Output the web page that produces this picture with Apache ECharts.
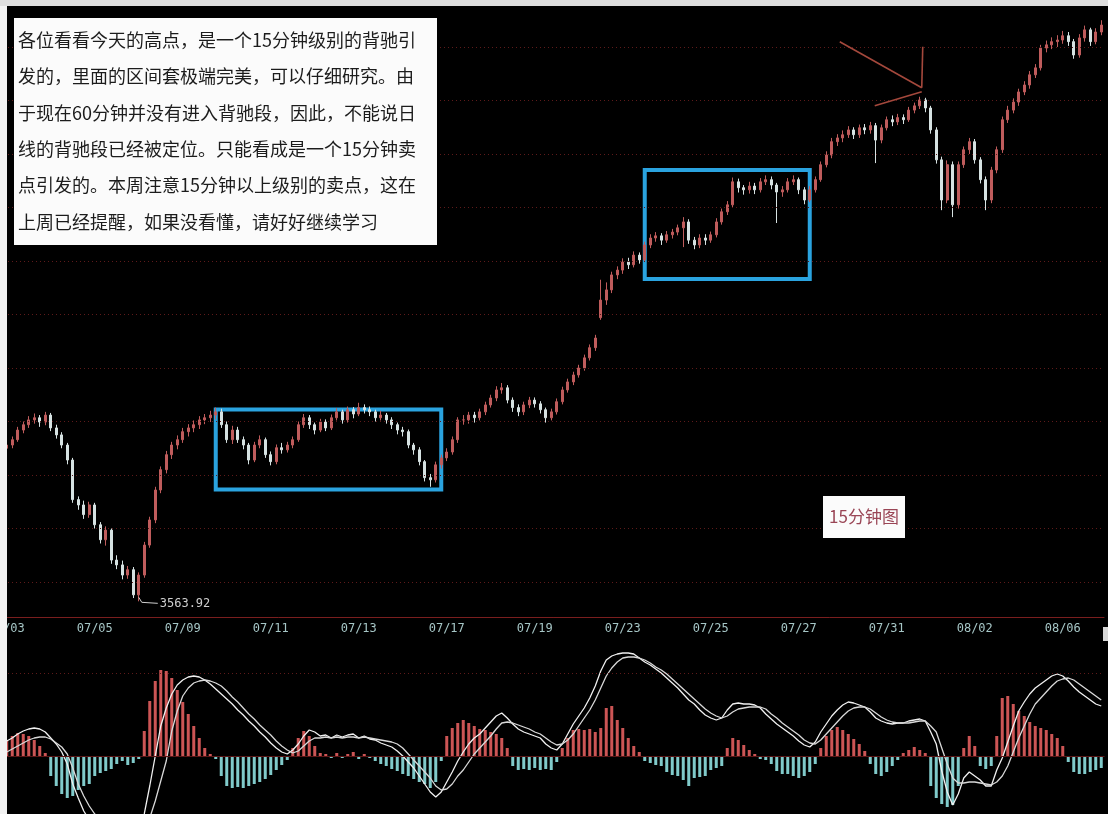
<!DOCTYPE html>
<html><head><meta charset="utf-8">
<script src="https://cdn.jsdelivr.net/npm/echarts@6/dist/echarts.min.js"></script>
<style>html,body{margin:0;padding:0;background:#fff}#c{width:1108px;height:814px}</style>
</head><body><div id="c"></div>
<script>
// ---- data ----
const days = ['07/03','07/04','07/05','07/06','07/09','07/10','07/11','07/12','07/13','07/16','07/17','07/18','07/19','07/20','07/23','07/24','07/25','07/26','07/27','07/30','07/31','08/01','08/02','08/03','08/06'];
const barsPerDay = 8;
const open = [
3850,3856,3866,3884,3894,3903,3907,3899,3912,3888,
3875,3856,3828,3754,3744,3726,3744,3707,3679,3697,
3641,3632,3613,3623,3576,3613,3669,3716,3772,3810,
3838,3856,3866,3881,3888,3894,3903,3907,3912,3918,
3894,3866,3884,3866,3856,3828,3856,3866,3838,3825,
3851,3847,3856,3866,3894,3907,3894,3884,3899,3888,
3907,3918,3903,3922,3914,3926,3922,3918,3907,3912,
3903,3894,3884,3881,3856,3847,3825,3795,3791,3819,
3832,3843,3866,3903,3903,3912,3907,3918,3931,3944,
3959,3963,3940,3926,3918,3931,3940,3933,3922,3907,
3918,3937,3959,3974,3987,4000,4019,4038,4094,4127,
4146,4174,4183,4198,4193,4211,4202,4230,4243,4247,
4239,4249,4254,4262,4273,4239,4230,4243,4239,4249,
4273,4292,4305,4348,4337,4333,4340,4333,4348,4352,
4342,4329,4333,4348,4352,4333,4314,4333,4352,4380,
4398,4423,4430,4436,4445,4436,4449,4445,4453,4426,
4449,4464,4460,4468,4464,4482,4490,4501,4486,4445,
4389,4314,4380,4305,4380,4408,4423,4389,4352,4314,
4370,4408,4464,4482,4497,4516,4529,4548,4561,4598,
4604,4610,4613,4621,4610,4585,4617,4632,4610,4628];
const close = [
3856,3866,3884,3894,3903,3907,3899,3912,3888,3875,
3856,3828,3754,3744,3726,3744,3707,3679,3697,3641,
3632,3613,3623,3576,3613,3669,3716,3772,3810,3838,
3856,3866,3881,3888,3894,3903,3907,3912,3918,3894,
3866,3884,3866,3856,3828,3856,3866,3838,3825,3851,
3847,3856,3866,3894,3907,3894,3884,3899,3888,3907,
3918,3903,3922,3914,3926,3922,3918,3907,3912,3903,
3894,3884,3881,3856,3847,3825,3795,3791,3819,3832,
3843,3866,3903,3903,3912,3907,3918,3931,3944,3959,
3963,3940,3926,3918,3931,3940,3933,3922,3907,3918,
3937,3959,3974,3987,4000,4019,4038,4056,4127,4146,
4174,4183,4198,4193,4211,4202,4230,4243,4247,4239,
4249,4254,4262,4273,4239,4230,4243,4239,4249,4273,
4292,4305,4348,4337,4333,4340,4333,4348,4352,4342,
4329,4333,4348,4352,4333,4314,4333,4352,4380,4398,
4423,4430,4436,4445,4436,4449,4445,4453,4426,4449,
4464,4460,4468,4464,4482,4490,4501,4486,4445,4389,
4314,4380,4305,4380,4408,4423,4389,4352,4314,4370,
4408,4464,4482,4497,4516,4529,4548,4561,4598,4604,
4610,4613,4621,4610,4585,4617,4632,4610,4628,4641];
const low = [
3842,3850,3862,3878,3888,3896,3890,3893,3882,3868,
3850,3820,3748,3735,3718,3720,3700,3672,3668,3634,
3624,3605,3606,3570,3563.92,3608,3664,3710,3766,3803,
3830,3848,3860,3872,3880,3886,3895,3899,3904,3888,
3860,3858,3860,3848,3820,3824,3850,3832,3818,3820,
3840,3842,3850,3862,3888,3886,3876,3880,3882,3884,
3902,3896,3898,3906,3910,3915,3910,3900,3902,3896,
3886,3876,3872,3850,3838,3818,3788,3778,3786,3812,
3826,3838,3860,3894,3896,3898,3902,3912,3926,3938,
3952,3934,3918,3910,3912,3925,3926,3915,3898,3902,
3913,3932,3954,3968,3982,3995,4014,4032,4090,4118,
4140,4166,4176,4185,4188,4195,4198,4224,4236,4230,
4234,4242,4248,4226,4232,4222,4224,4230,4234,4244,
4268,4286,4300,4328,4324,4326,4325,4328,4342,4334,
4271,4320,4328,4342,4325,4306,4310,4328,4348,4375,
4392,4415,4422,4430,4428,4430,4437,4438,4383,4420,
4444,4452,4454,4456,4460,4476,4484,4478,4438,4382,
4295,4308,4282,4298,4374,4400,4382,4345,4295,4308,
4364,4402,4458,4476,4490,4510,4522,4542,4556,4590,
4596,4600,4606,4602,4578,4580,4610,4602,4605,4622];
const high = [
3862,3872,3890,3900,3910,3915,3912,3918,3916,3894,
3880,3860,3832,3760,3752,3750,3748,3712,3704,3700,
3650,3640,3630,3628,3618,3675,3722,3778,3816,3845,
3862,3874,3888,3895,3902,3910,3914,3920,3926,3924,
3900,3892,3890,3872,3860,3862,3874,3870,3844,3857,
3860,3862,3872,3900,3914,3912,3898,3905,3904,3913,
3925,3922,3928,3927,3935,3932,3928,3922,3920,3916,
3908,3898,3890,3885,3860,3852,3828,3802,3825,3838,
3850,3872,3908,3912,3918,3918,3924,3937,3950,3966,
3972,3968,3945,3932,3937,3946,3945,3938,3926,3924,
3943,3965,3980,3993,4006,4025,4044,4062,4165,4160,
4180,4190,4205,4206,4218,4216,4236,4250,4254,4252,
4256,4260,4268,4282,4278,4245,4250,4250,4255,4280,
4298,4312,4356,4354,4342,4348,4346,4355,4360,4358,
4346,4340,4355,4360,4356,4338,4340,4358,4386,4405,
4430,4437,4444,4452,4450,4455,4456,4460,4458,4455,
4470,4472,4475,4474,4488,4496,4507,4505,4490,4450,
4395,4388,4386,4386,4414,4430,4428,4394,4358,4376,
4414,4470,4490,4504,4522,4536,4555,4568,4604,4612,
4618,4622,4630,4628,4615,4624,4640,4636,4635,4650];
const macdHist = [
15,20,23,22,20,16,10,3,-20,-30,
-38,-42,-40,-34,-30,-28,-20,-17,-15,-13,
-8,-5,-9,-7,-3,25,55,75,86,85,
78,66,54,42,30,18,8,2,-3,-20,
-30,-32,-31,-32,-30,-28,-26,-23,-19,-14,
-9,-4,8,18,25,20,10,3,2,-2,
3,-2,2,4,-3,2,-2,-5,-8,-10,
-13,-15,-18,-20,-23,-26,-28,-32,-26,-5,
20,28,33,36,33,30,27,26,24,22,
18,8,-10,-14,-13,-14,-12,-14,-13,-14,
-6,8,18,26,27,26,27,24,28,48,
50,36,28,18,10,4,-5,-7,-9,-10,
-16,-19,-20,-24,-30,-22,-21,-20,-14,-12,
-10,8,18,16,11,6,2,-3,-4,-8,
-15,-18,-18,-20,-22,-20,-16,-8,8,20,
26,29,26,22,17,12,5,-8,-18,-20,
-16,-10,-4,3,6,9,6,3,-30,-42,
-48,-51,-49,-30,8,20,10,-10,-13,-10,
20,58,60,52,45,40,34,30,28,26,
22,18,10,-6,-16,-18,-18,-16,-14,-12];
const dif = [
15,18,22,25,27,28,27,24,18,12,
4,-8,-28,-42,-55,-64,-72,-80,-84,-88,
-88,-86,-87,-85,-72,-58,-30,0,30,48,
62,71,76,79,80,79,76,72,67,62,
57,52,46,41,35,30,24,19,13,8,
4,2,6,12,20,26,24,20,21,18,
21,19,21,22,18,20,17,16,13,11,
9,5,0,-6,-12,-20,-28,-36,-41,-36,
-26,-16,-5,4,12,18,22,28,34,40,
43,38,32,27,24,22,20,18,12,8,
6,12,22,32,40,48,58,70,85,96,
100,102,103,103,102,98,94,91,87,83,
78,73,68,62,56,52,46,41,38,36,
38,46,52,53,52,52,51,48,42,37,
32,28,24,20,15,11,9,14,24,32,
40,46,51,54,53,51,49,44,38,35,
33,32,33,33,35,36,37,35,24,12,
-15,-36,-49,-38,-22,-16,-20,-24,-30,-30,
-14,-2,14,30,45,54,62,68,72,76,
80,82,80,75,69,64,60,56,52,50];
const dea = [
4,7,10,13,16,18,19,19,17,13,
9,2,-12,-28,-40,-50,-58,-64,-69,-73,
-76,-78,-80,-81,-80,-75,-62,-45,-25,-5,
25,45,60,68,73,75,76,75,73,70,
65,59,54,48,42,37,31,26,21,15,
10,6,3,5,10,15,18,18,19,18,
19,18,19,19,18,19,18,17,16,15,
14,12,8,2,-4,-10,-16,-22,-30,-34,
-33,-28,-20,-14,-6,2,8,14,20,27,
33,34,33,31,29,27,24,22,18,14,
11,12,16,22,30,38,46,56,68,80,
88,94,98,99,99,98,96,93,89,86,
82,77,72,67,62,57,52,47,43,40,
38,40,44,47,48,49,49,49,47,42,
38,33,29,25,21,16,13,12,16,22,
28,34,40,45,48,49,49,47,43,39,
36,34,33,33,33,34,35,35,30,24,
8,-8,-22,-27,-27,-26,-26,-27,-28,-29,
-26,-20,-10,4,18,30,42,52,58,64,
70,75,77,78,76,72,68,64,60,56];
const priceLevels = [3600,3700,3800,3900,4000,4100,4200,4300,4400,4500,4600];
const macdLevels = [0, 83];
const boxBars = [[38,79],[116,146]];
const boxPrices = [[3922.6,3773.1],[4370.3,4166.5]];
const arrowBar = 166;
const noteLines = [
'各位看看今天的高点，是一个15分钟级别的背驰引',
'发的，里面的区间套极端完美，可以仔细研究。由',
'于现在60分钟并没有进入背驰段，因此，不能说日',
'线的背驰段已经被定位。只能看成是一个15分钟卖',
'点引发的。本周注意15分钟以上级别的卖点，这在',
'上周已经提醒，如果没看懂，请好好继续学习'];
const tagText = '15分钟图';

// ---- chart ----
const cats = days.flatMap(d => Array.from({length: barsPerDay}, (_, k) => d + '#' + k));
const ohlc = cats.map((_, i) => [open[i], close[i], low[i], high[i]]);
const chart = echarts.init(document.getElementById('c'), null, {renderer: 'canvas'});
const red = '#7a1e1e';
const dots = {type: [1, 3], color: '#5e1a1a', width: 1};
chart.setOption({
  animation: false,
  backgroundColor: '#000',
  grid: [
    {left: 4, right: 4, top: 6, height: 611, containLabel: false, outerBoundsMode: 'none'},
    {left: 4, right: 4, top: 642, height: 172, containLabel: false, outerBoundsMode: 'none'}
  ],
  xAxis: [
    {type: 'category', gridIndex: 0, data: cats, boundaryGap: true,
     axisLine: {lineStyle: {color: red}}, axisTick: {show: false}, splitLine: {show: false},
     axisLabel: {interval: (i) => i % (2 * barsPerDay) === 0, formatter: v => v.split('#')[0], hideOverlap: false,
       color: '#a6c6c6', fontFamily: 'DejaVu Sans Mono', fontSize: 12, margin: 6}},
    {type: 'category', gridIndex: 1, data: cats, boundaryGap: true, position: 'top',
     axisLine: {lineStyle: {color: red}}, axisTick: {show: false}, axisLabel: {show: false}, splitLine: {show: false}}
  ],
  yAxis: [
    {type: 'value', gridIndex: 0, min: 3534.6, max: 4676.6, show: false},
    {type: 'value', gridIndex: 1, min: -58, max: 114, show: false}
  ],
  series: [
    {type: 'candlestick', xAxisIndex: 0, yAxisIndex: 0, data: ohlc, barMaxWidth: 3,
     itemStyle: {color: '#bf5c5c', color0: '#d6e2e2', borderColor: '#bf5c5c', borderColor0: '#d6e2e2', borderWidth: 1},
     markLine: {silent: true, symbol: 'none', label: {show: false}, lineStyle: dots,
       data: priceLevels.map(v => ({yAxis: v}))},
     markArea: {silent: true, label: {show: false},
       itemStyle: {color: 'rgba(0,0,0,0)', borderColor: '#2aa3df', borderWidth: 4},
       data: boxBars.map((b, k) => [{xAxis: cats[b[0]], yAxis: boxPrices[k][0]}, {xAxis: cats[b[1]], yAxis: boxPrices[k][1]}])}
    },
    {type: 'bar', xAxisIndex: 1, yAxisIndex: 1, data: macdHist, barWidth: 3,
     itemStyle: {color: p => p.value >= 0 ? '#cc5555' : '#80caca'},
     markLine: {silent: true, symbol: 'none', label: {show: false},
       data: [{yAxis: macdLevels[0], lineStyle: {type: 'solid', color: '#5a1616', width: 1}},
              {yAxis: macdLevels[1], lineStyle: dots}]}},
    {type: 'line', xAxisIndex: 1, yAxisIndex: 1, data: dif, symbol: 'none',
     lineStyle: {color: '#f0f0f0', width: 1.3}},
    {type: 'line', xAxisIndex: 1, yAxisIndex: 1, data: dea, symbol: 'none',
     lineStyle: {color: '#d8d8d8', width: 1.3}}
  ]
});

// ---- annotations positioned through the scales ----
const lowIdx = low.indexOf(Math.min(...low));
const lp = chart.convertToPixel({gridIndex: 0}, [cats[lowIdx], low[lowIdx]]);
const pk = chart.convertToPixel({gridIndex: 0}, [cats[arrowBar], high[arrowBar]]);
const g = [];
g.push({type: 'rect', z: 100, shape: {x: 0, y: 0, width: 7, height: 814}, style: {fill: '#f2f2f2'}});
g.push({type: 'rect', z: 100, shape: {x: 0, y: 0, width: 1108, height: 6}, style: {fill: '#dedede'}});
g.push({type: 'rect', z: 100, shape: {x: 14, y: 18, width: 423, height: 227}, style: {fill: '#fbfbfb'}});
noteLines.forEach((t, k) => g.push({type: 'text', z: 101,
  style: {text: t, x: 18, y: 40 + k * 36.4, font: '18px "Noto Sans CJK SC"', fill: '#1c1c1c',
    verticalAlign: 'middle', textVerticalAlign: 'middle'}}));
g.push({type: 'rect', z: 100, shape: {x: 823, y: 496, width: 82, height: 42}, style: {fill: '#fbfbfb'}});
g.push({type: 'text', z: 101, style: {text: tagText, x: 864, y: 517, font: '17px "Noto Sans CJK SC"', fill: '#9a4656',
  align: 'center', textAlign: 'center', verticalAlign: 'middle', textVerticalAlign: 'middle'}});
g.push({type: 'polyline', z: 100, shape: {points: [[lp[0], lp[1] - 4], [lp[0] + 3, lp[1] + 1], [lp[0] + 19, lp[1] + 2]]},
  style: {stroke: '#cfcfcf', lineWidth: 1, fill: null}});
g.push({type: 'text', z: 100, style: {text: low[lowIdx].toFixed(2), x: lp[0] + 21, y: lp[1] + 3,
  font: '12px "DejaVu Sans Mono"', fill: '#cfcfcf', verticalAlign: 'middle', textVerticalAlign: 'middle'}});
const arrowColor = '#a4483c';
[[[-80, -55], [2, -9]], [[-45, 9], [2, -5]], [[3, -50], [2, -9]]].forEach(seg => g.push({type: 'line', z: 100,
  shape: {x1: pk[0] + seg[0][0], y1: pk[1] + seg[0][1], x2: pk[0] + seg[1][0], y2: pk[1] + seg[1][1]},
  style: {stroke: arrowColor, lineWidth: 1.6}}));
g.push({type: 'rect', z: 100, shape: {x: 1103, y: 627, width: 5, height: 14}, style: {fill: '#d8d8d8'}});
chart.setOption({graphic: g});
</script></body></html>
